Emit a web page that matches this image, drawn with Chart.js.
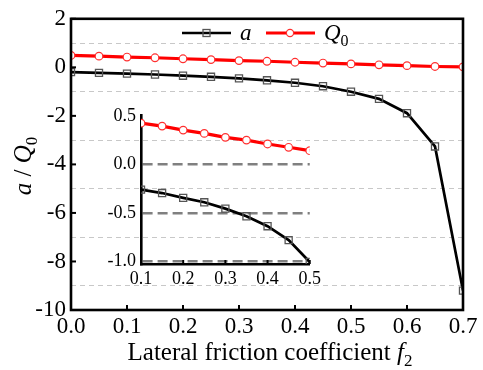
<!DOCTYPE html>
<html>
<head>
<meta charset="utf-8">
<script src="https://cdn.jsdelivr.net/npm/chart.js@4.4.0/dist/chart.umd.min.js"></script>
<style>
    body { margin: 0; background: #fff; }
    #wrap { position: relative; width: 483px; height: 370px; }
    #main { position: absolute; left: 0; top: 0; }
    #inset { position: absolute; left: 95px; top: 100px; }
</style>
</head>
<body>
<div id="wrap">
    <canvas id="main" width="483" height="370"></canvas>
    <canvas id="inset" width="230" height="195"></canvas>
</div>
<script>
// values
var friction = [0, 0.05, 0.1, 0.15, 0.2, 0.25, 0.3, 0.35, 0.4, 0.45, 0.5, 0.55, 0.6, 0.65, 0.7];
var aValues = [-0.20, -0.23, -0.26, -0.295, -0.345, -0.39, -0.455, -0.534, -0.636, -0.779, -1.004, -1.30, -1.89, -3.26, -9.2];
var q0Values = [0.49, 0.46, 0.424, 0.394, 0.353, 0.319, 0.278, 0.25, 0.21, 0.176, 0.141, 0.105, 0.07, 0.035, 0.02];

var mainXTicks = [0, 0.1, 0.2, 0.3, 0.4, 0.5, 0.6, 0.7];
var mainYTicks = [2, 1, 0, -1, -2, -3, -4, -5, -6, -7, -8, -9, -10];
var insetXTicks = [0.1, 0.2, 0.3, 0.4, 0.5];
var insetYTicks = [0.5, 0, -0.5, -1];

var serif = "'Liberation Serif', 'Times New Roman', serif";

var toPoints = function (ys, lo, hi) {
    var pts = [];
    friction.forEach(function (f, i) {
        if (f >= lo - 1e-9 && f <= hi + 1e-9) pts.push({ x: f, y: ys[i] });
    });
    return pts;
};

var seriesA = function (pts) {
    return {
        label: 'a', data: pts, borderColor: '#000', borderWidth: 2.7,
        pointStyle: 'rect', pointRadius: 5, pointBorderColor: '#555',
        pointBorderWidth: 1.3, pointBackgroundColor: 'rgba(0,0,0,0)', tension: 0
    };
};
var seriesQ = function (pts) {
    return {
        label: 'Q0', data: pts, borderColor: '#ff0000', borderWidth: 3.2,
        pointStyle: 'circle', pointRadius: 3.8, pointBorderColor: '#ff3030',
        pointBorderWidth: 1.2, pointBackgroundColor: '#fff', tension: 0
    };
};

// draws text runs: [text, italic, subscript]
var drawRuns = function (ctx, runs, x, y, size, align) {
    var fontOf = function (r) {
        var s = r[2] ? Math.round(size * 0.68) : size;
        return (r[1] ? 'italic ' : '') + s + 'px ' + serif;
    };
    var total = 0;
    runs.forEach(function (r) { ctx.font = fontOf(r); total += ctx.measureText(r[0]).width; });
    var cx = align === 'center' ? x - total / 2 : x;
    ctx.textAlign = 'left';
    ctx.textBaseline = 'alphabetic';
    runs.forEach(function (r) {
        ctx.font = fontOf(r);
        ctx.fillText(r[0], cx, y + (r[2] ? size * 0.25 : 0));
        cx += ctx.measureText(r[0]).width;
    });
};

var mainDecor = {
    id: 'mainDecor',
    afterDraw: function (chart) {
        var ctx = chart.ctx, area = chart.chartArea;
        var xs = chart.scales.x, ys = chart.scales.y;
        ctx.save();
        ctx.strokeStyle = '#000';
        ctx.lineWidth = 2;
        mainXTicks.forEach(function (v) {
            var px = xs.getPixelForValue(v);
            ctx.beginPath(); ctx.moveTo(px, area.bottom); ctx.lineTo(px, area.bottom - 5); ctx.stroke();
        });
        mainYTicks.forEach(function (v) {
            if (v % 2 !== 0) return;
            var py = ys.getPixelForValue(v);
            ctx.beginPath(); ctx.moveTo(area.left, py); ctx.lineTo(area.left + 5, py); ctx.stroke();
        });
        ctx.lineWidth = 2.6;
        ctx.strokeRect(area.left, area.top, area.right - area.left, area.bottom - area.top);

        // legend
        ctx.fillStyle = '#000';
        ctx.lineWidth = 2.5;
        ctx.beginPath(); ctx.moveTo(182, 33); ctx.lineTo(231, 33); ctx.stroke();
        ctx.strokeStyle = '#555'; ctx.lineWidth = 1.3;
        ctx.strokeRect(203, 29.5, 7, 7);
        drawRuns(ctx, [['a', true, false]], 240, 40, 23, 'left');
        ctx.strokeStyle = '#ff0000'; ctx.lineWidth = 3.2;
        ctx.beginPath(); ctx.moveTo(266, 33); ctx.lineTo(315, 33); ctx.stroke();
        ctx.fillStyle = '#fff'; ctx.strokeStyle = '#ff3030'; ctx.lineWidth = 1.2;
        ctx.beginPath(); ctx.arc(290, 33, 3.6, 0, Math.PI * 2); ctx.fill(); ctx.stroke();
        ctx.fillStyle = '#000';
        drawRuns(ctx, [['Q', true, false], ['0', false, true]], 324, 40, 23, 'left');

        // axis titles
        drawRuns(ctx, [['Lateral friction coefficient ', false, false], ['f', true, false], ['2', false, true]], 270, 360, 25, 'center');
        ctx.translate(31, 166);
        ctx.rotate(-Math.PI / 2);
        drawRuns(ctx, [['a', true, false], [' / ', false, false], ['Q', true, false], ['0', false, true]], 0, 0, 25, 'center');
        ctx.restore();
    }
};

new Chart(document.getElementById('main'), {
    type: 'line',
    data: {
        datasets: [seriesA(toPoints(aValues, 0, 0.7)), seriesQ(toPoints(q0Values, 0, 0.7))]
    },
    options: {
        responsive: false,
        devicePixelRatio: 1,
        animation: false,
        layout: { padding: { top: 18, right: 20, left: 0, bottom: 0 } },
        plugins: { legend: { display: false }, tooltip: { enabled: false } },
        scales: {
            x: {
                type: 'linear', min: 0, max: 0.7,
                afterBuildTicks: function (s) { s.ticks = mainXTicks.map(function (v) { return { value: v }; }); },
                afterFit: function (s) { s.height = 60; },
                ticks: {
                    color: '#000', padding: 3, maxRotation: 0, autoSkip: false,
                    font: { family: serif, size: 23 },
                    callback: function (v) { return v.toFixed(1); }
                },
                grid: { display: false, drawTicks: false },
                border: { display: false }
            },
            y: {
                type: 'linear', min: -10, max: 2,
                afterBuildTicks: function (s) { s.ticks = mainYTicks.map(function (v) { return { value: v }; }); },
                afterFit: function (s) { s.width = 71; },
                ticks: {
                    color: '#000', padding: 5, autoSkip: false,
                    font: { family: serif, size: 23 },
                    callback: function (v) { return v % 2 === 0 ? String(v) : ''; }
                },
                grid: {
                    drawTicks: false, lineWidth: 1,
                    color: function (c) { return c.tick && Math.abs(c.tick.value % 2) === 1 ? '#c8c8c8' : 'rgba(0,0,0,0)'; }
                },
                border: { display: false, dash: [5, 4] }
            }
        }
    },
    plugins: [mainDecor]
});

var insetDecor = {
    id: 'insetDecor',
    afterDraw: function (chart) {
        var ctx = chart.ctx, area = chart.chartArea;
        var xs = chart.scales.x;
        ctx.save();
        ctx.strokeStyle = '#000';
        ctx.lineWidth = 2;
        insetXTicks.forEach(function (v) {
            var px = xs.getPixelForValue(v);
            ctx.beginPath(); ctx.moveTo(px, area.bottom); ctx.lineTo(px, area.bottom - 4); ctx.stroke();
        });
        ctx.restore();
    }
};

new Chart(document.getElementById('inset'), {
    type: 'line',
    data: {
        datasets: [seriesA(toPoints(aValues, 0.1, 0.5)), seriesQ(toPoints(q0Values, 0.1, 0.5))]
    },
    options: {
        responsive: false,
        devicePixelRatio: 1,
        animation: false,
        layout: { padding: { top: 15, right: 15, left: 0, bottom: 0 } },
        plugins: { legend: { display: false }, tooltip: { enabled: false } },
        scales: {
            x: {
                type: 'linear', min: 0.1, max: 0.5,
                afterBuildTicks: function (s) { s.ticks = insetXTicks.map(function (v) { return { value: v }; }); },
                afterFit: function (s) { s.height = 31; },
                ticks: {
                    color: '#000', padding: 4, maxRotation: 0, autoSkip: false,
                    font: { family: serif, size: 18 },
                    callback: function (v) { return v.toFixed(1); }
                },
                grid: { display: false, drawTicks: false },
                border: { display: true, color: '#000', width: 2.6 }
            },
            y: {
                type: 'linear', min: -1.025, max: 0.5,
                afterBuildTicks: function (s) { s.ticks = insetYTicks.map(function (v) { return { value: v }; }); },
                afterFit: function (s) { s.width = 46; },
                ticks: {
                    color: '#000', padding: 5, autoSkip: false,
                    font: { family: serif, size: 18 },
                    callback: function (v) { return v.toFixed(1); }
                },
                grid: {
                    drawTicks: false, lineWidth: 2.4,
                    color: function (c) { return c.tick && c.tick.value < 0.4 ? '#808080' : 'rgba(0,0,0,0)'; }
                },
                border: { display: true, color: '#000', width: 2.6, dash: [10, 5] }
            }
        }
    },
    plugins: [insetDecor]
});
</script>
</body>
</html>
